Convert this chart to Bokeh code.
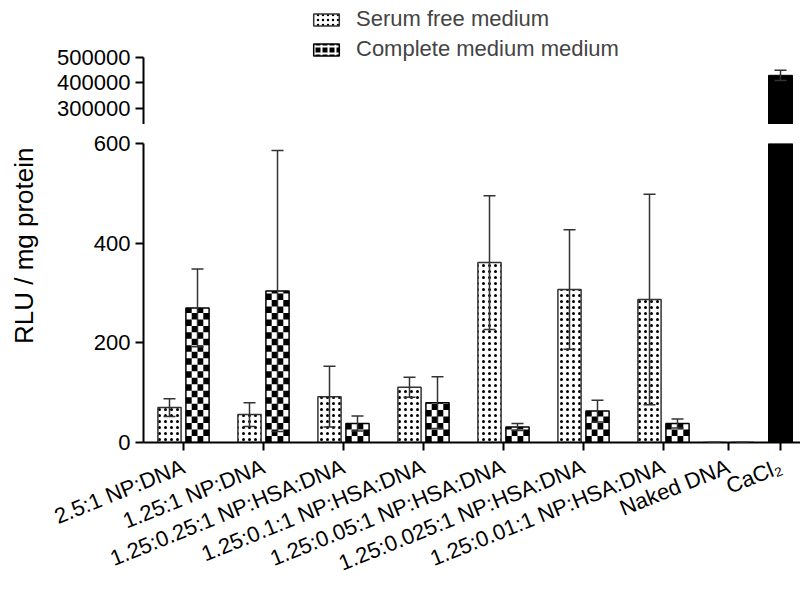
import math
from bokeh.plotting import figure
from bokeh.layouts import column
from bokeh.models import (ColumnDataSource, Range1d, FixedTicker, Whisker, TeeHead,
                          Legend, LegendItem, Title, BasicTickFormatter)
from bokeh.embed import file_html
from bokeh.resources import INLINE

# ---------------- data ----------------
categories = ["2.5:1 NP:DNA", "1.25:1 NP:DNA", "1.25:0.25:1 NP:HSA:DNA",
              "1.25:0.1:1 NP:HSA:DNA", "1.25:0.05:1 NP:HSA:DNA",
              "1.25:0.025:1 NP:HSA:DNA", "1.25:0.01:1 NP:HSA:DNA",
              "Naked DNA", "CaCl\u2082"]
serum_free = [70, 56, 92, 111, 361, 307, 287, 0]
serum_free_err = [18, 24, 61, 20, 134, 120, 211, 0]
complete_medium = [270, 304, 38, 80, 31, 63, 38, 0]
complete_medium_err = [78, 282, 15, 52, 7, 22, 9, 0]
cacl2 = [430000]
cacl2_err = [20000]
series_names = ["Serum free medium", "Complete medium medium"]
lower_ticks = [0, 200, 400, 600]
upper_ticks = [300000, 400000, 500000]

# ---------------- layout ----------------
cat_pos = [0, 1, 2, 3, 4, 5, 6, 6.8125, 7.4625]
offset = 0.175
bar_w = 0.29
checker_cols = 4
checker_h = 13.0      # data units per checker row (lower panel)
FONT = "Liberation Sans"

n = len(serum_free)
x_serum = [cat_pos[i] - offset for i in range(n)]
x_comp = [cat_pos[i] + offset for i in range(n)]
x_cacl = [cat_pos[8]]

src_serum = ColumnDataSource(dict(x=x_serum, top=serum_free,
                                  upper=[v + e for v, e in zip(serum_free, serum_free_err)],
                                  lower=[v - e for v, e in zip(serum_free, serum_free_err)]))
src_comp = ColumnDataSource(dict(x=x_comp, top=complete_medium,
                                 upper=[v + e for v, e in zip(complete_medium, complete_medium_err)],
                                 lower=[v - e for v, e in zip(complete_medium, complete_medium_err)]))
src_cacl = ColumnDataSource(dict(x=x_cacl, top=cacl2,
                                 upper=[v + e for v, e in zip(cacl2, cacl2_err)],
                                 lower=[v - e for v, e in zip(cacl2, cacl2_err)]))

# checkerboard cells inside each complete-medium bar (derived from the bar values)
cw = bar_w / checker_cols
cells = dict(left=[], right=[], bottom=[], top=[])
for xc, v in zip(x_comp, complete_medium):
    rows = int(math.ceil(v / checker_h))
    for k in range(rows):
        for c in range(checker_cols):
            if (k + c) % 2 == 0:
                l = xc - bar_w / 2 + c * cw
                cells["left"].append(l)
                cells["right"].append(l + cw)
                cells["bottom"].append(k * checker_h)
                cells["top"].append(min((k + 1) * checker_h, v))
src_cells = ColumnDataSource(cells)

xr = Range1d(-0.5, 7.7125)


def style_axis(ax):
    ax.axis_line_width = 2
    ax.axis_line_color = "black"
    ax.major_tick_line_width = 2
    ax.major_tick_line_color = "black"
    ax.major_tick_out = 8
    ax.major_tick_in = 0
    ax.minor_tick_line_color = None
    ax.major_label_text_font = FONT
    ax.major_label_text_font_size = "22px"
    ax.major_label_text_color = "black"


def add_whisker(p, src):
    w = Whisker(base="x", upper="upper", lower="lower", source=src, dimension="height",
                line_color="#333333", line_width=1.5, level="overlay",
                upper_head=TeeHead(size=12, line_color="#333333", line_width=1.5),
                lower_head=TeeHead(size=12, line_color="#333333", line_width=1.5))
    p.add_layout(w)


def cacl_bar(p):
    p.vbar(x="x", top="top", bottom=0, width=0.3, source=src_cacl,
           fill_color="black", line_color="black")


# ---------------- upper panel ----------------
p_top = figure(width=800, height=124, x_range=xr, y_range=Range1d(237000, 723500),
               output_backend="svg", toolbar_location=None,
               min_border_left=143, min_border_right=0, min_border_top=0, min_border_bottom=0)
p_top.xaxis.visible = False
p_top.grid.visible = False
p_top.outline_line_color = None
cacl_bar(p_top)
add_whisker(p_top, src_cacl)
# legend entries (same series; their bars lie below this panel's range)
lg1 = p_top.vbar(x="x", top="top", bottom=0, width=bar_w, source=src_serum,
                 fill_color="white", line_color="#333333", line_width=1.5,
                 hatch_pattern="dot", hatch_color="black", hatch_scale=5)
lg2 = p_top.vbar(x="x", top="top", bottom=0, width=bar_w, source=src_comp,
                 fill_color="black", line_color="black", line_width=1.5,
                 hatch_pattern="cross", hatch_color="white", hatch_scale=7, hatch_weight=2)
lg1.visible = False
lg2.visible = False
ya = p_top.yaxis[0]
style_axis(ya)
ya.ticker = FixedTicker(ticks=upper_ticks)
ya.formatter = BasicTickFormatter(use_scientific=False)
ya.bounds = (237000, 500000)

legend = Legend(items=[LegendItem(label=series_names[0], renderers=[lg1]),
                       LegendItem(label=series_names[1], renderers=[lg2])],
                location=(167, 62), orientation="vertical",
                glyph_width=32, glyph_height=15, label_standoff=14,
                label_text_font=FONT, label_text_font_size="22px",
                padding=0, margin=0, spacing=4,
                border_line_color=None, background_fill_alpha=0,
                inactive_fill_alpha=0, click_policy="none")
p_top.add_layout(legend)

# ---------------- lower panel ----------------
p_bot = figure(width=800, height=466, x_range=xr, y_range=Range1d(0, 600),
               output_backend="svg", toolbar_location=None,
               min_border_left=143, min_border_right=0, min_border_top=19, min_border_bottom=147)
p_bot.grid.visible = False
p_bot.outline_line_color = None
p_bot.vbar(x="x", top="top", bottom=0, width=bar_w, source=src_serum,
           fill_color="white", line_color="#333333", line_width=1.5,
           hatch_pattern="dot", hatch_color="black", hatch_scale=6)
p_bot.quad(left="left", right="right", bottom="bottom", top="top", source=src_cells,
           fill_color="black", line_color=None)
p_bot.vbar(x="x", top="top", bottom=0, width=bar_w, source=src_comp,
           fill_color=None, line_color="black", line_width=1.5)
cacl_bar(p_bot)
add_whisker(p_bot, src_serum)
add_whisker(p_bot, src_comp)

yb = p_bot.yaxis[0]
style_axis(yb)
yb.ticker = FixedTicker(ticks=lower_ticks)
yb.axis_label = " "
yb.axis_label_text_font_size = "20px"
yb.axis_label_standoff = 22

xa = p_bot.xaxis[0]
style_axis(xa)
xa.ticker = FixedTicker(ticks=cat_pos)
xa.major_label_overrides = {p: c for p, c in zip(cat_pos, categories)}
xa.major_label_orientation = math.radians(22)
xa.major_label_text_font_size = "22px"
xa.major_label_standoff = 15

p_bot.add_layout(Title(text="RLU / mg protein", align="right", offset=4, standoff=10,
                       text_font=FONT, text_font_size="26px", text_font_style="normal",
                       text_color="black"), "left")

layout = column(p_top, p_bot, spacing=0)
open("out.html", "w").write(file_html(layout, INLINE))
